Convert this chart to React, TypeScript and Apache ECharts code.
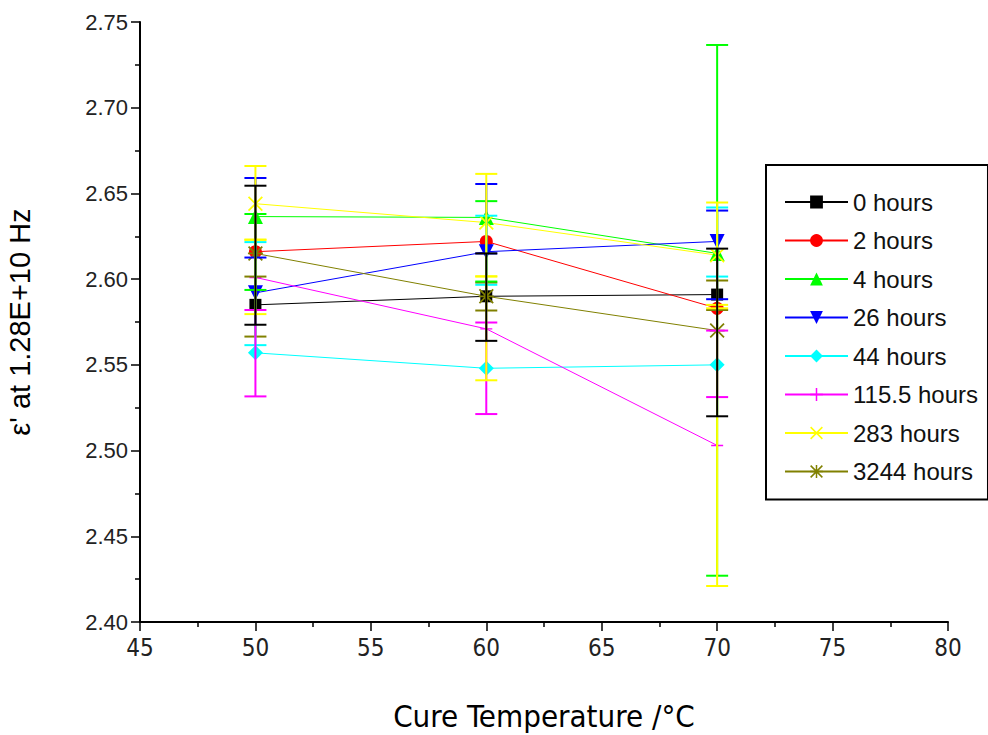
import React, { useEffect, useRef } from "react";
import * as echarts from "echarts";

const temps = [50, 60, 70];
const seriesNames = ["0 hours", "2 hours", "4 hours", "26 hours", "44 hours", "115.5 hours", "283 hours", "3244 hours"];
const h0 = [2.585, 2.590, 2.591];
const h2 = [2.616, 2.622, 2.583];
const h4 = [2.6365, 2.636, 2.615];
const h26 = [2.592, 2.616, 2.622];
const h44 = [2.557, 2.548, 2.550];
const h115 = [2.601, 2.571, 2.503];
const h283 = [2.644, 2.633, 2.614];
const h3244 = [2.615, 2.590, 2.570];

const hi0 = [2.6015, 2.598, 2.5992];
const lo0 = [2.5665, 2.5817, 2.582];
const hi2 = [2.638, 2.6455, 2.7366];
const lo2 = [2.5937, 2.5986, 2.427];
const hi4 = [2.659, 2.6555, 2.640];
const lo4 = [2.6126, 2.615, 2.5883];
const hi26 = [2.6216, 2.637, 2.6418];
const lo26 = [2.5615, 2.5967, 2.6015];
const hi44 = [2.582, 2.5747, 2.570];
const lo44 = [2.5316, 2.5213, 2.5312];
const hi115 = [2.623, 2.6016, 2.585];
const lo115 = [2.5796, 2.541, 2.421];
const hi283 = [2.666, 2.6614, 2.6447];
const lo283 = [2.623, 2.6016, 2.583];
const hi3244 = [2.6545, 2.615, 2.6178];
const lo3244 = [2.5734, 2.564, 2.520];

const xTicks = [45, 50, 55, 60, 65, 70, 75, 80];
const yTicks = [2.40, 2.45, 2.50, 2.55, 2.60, 2.65, 2.70, 2.75];

const colors = ["#000000", "#FF0000", "#00FF00", "#0000FF", "#00FFFF", "#FF00FF", "#FFFF00", "#808000"];
const errColorIdx = [7, 2, 3, 4, 5, 6, 6, 0];

const PLUS = "path://M5.3,0L6.7,0L6.7,12L5.3,12Z M0,5.3L12,5.3L12,6.7L0,6.7Z";
const CROSS = "path://M0,1L1,0L12,11L11,12Z M11,0L12,1L1,12L0,11Z";
const STAR = "path://M5.3,0L6.7,0L6.7,12L5.3,12Z M0,5.3L12,5.3L12,6.7L0,6.7Z M0,1L1,0L12,11L11,12Z M11,0L12,1L1,12L0,11Z";
const DOWN = "path://M0,0L10,0L5,9Z";
const DIAMOND = "path://M5,0L10,5L5,10L0,5Z";

const symbols = ["rect", "circle", "triangle", DOWN, DIAMOND, PLUS, CROSS, STAR];
const symbolSizes = [12, 13, 15, 15, 15, 12, 15, 15];

const values = [h0, h2, h4, h26, h44, h115, h283, h3244];
const highs = [hi0, hi2, hi4, hi26, hi44, hi115, hi283, hi3244];
const lows = [lo0, lo2, lo4, lo26, lo44, lo115, lo283, lo3244];

const FONT = "'Liberation Sans', Arial, sans-serif";
const NARROW = "'Liberation Sans Narrow', 'Arial Narrow', 'DejaVu Sans Condensed', 'Liberation Sans', sans-serif";

export default function App() {
  const ref = useRef<HTMLDivElement>(null);
  useEffect(() => {
    if (!ref.current) return;
    const chart = echarts.init(ref.current, null, { renderer: "svg" });

    const errData: number[][] = [];
    values.forEach((_, si) => {
      temps.forEach((t, i) => {
        errData.push([t, lows[si][i], highs[si][i], errColorIdx[si]]);
      });
    });

    const lineSeries = values.map((vals, si) => ({
      name: seriesNames[si],
      type: "line",
      data: temps.map((t, i) => [t, vals[i]]),
      symbol: symbols[si],
      symbolSize: symbolSizes[si],
      itemStyle: { color: colors[si] },
      lineStyle: { color: colors[si], width: 1 },
      z: 2,
    }));

    const option: any = {
      animation: false,
      backgroundColor: "#ffffff",
      grid: { left: 140, right: 40, top: 22, bottom: 113, outerBoundsMode: "none" },
      legend: {
        data: seriesNames,
        orient: "vertical",
        left: 766,
        top: 165,
        padding: [25, 10, 16, 18],
        itemWidth: 63,
        itemHeight: 16,
        itemGap: 14.5,
        borderColor: "#000",
        borderWidth: 2,
        textStyle: { fontFamily: FONT, fontSize: 24, lineHeight: 24, color: "#111" },
      },
      xAxis: {
        type: "value",
        min: 45,
        max: 80,
        interval: 5,
        name: "Cure Temperature /°C",
        nameLocation: "middle",
        nameGap: 78,
        nameTextStyle: { fontFamily: NARROW, fontSize: 31, color: "#000" },
        axisLine: { lineStyle: { color: "#000", width: 2 } },
        axisTick: { inside: false, length: 9, lineStyle: { color: "#000", width: 1.5 } },
        minorTick: { show: true, splitNumber: 2, length: 5, lineStyle: { color: "#000", width: 1.5 } },
        splitLine: { show: false },
        axisLabel: { fontFamily: NARROW, fontSize: 24, color: "#222", margin: 14, formatter: (v: number) => (xTicks.includes(v) ? String(v) : "") },
      },
      yAxis: {
        type: "value",
        min: 2.40,
        max: 2.75,
        interval: 0.05,
        name: "ε' at 1.28E+10 Hz",
        nameLocation: "middle",
        nameGap: 106,
        nameTextStyle: { fontFamily: FONT, fontSize: 29, color: "#000" },
        axisLine: { show: true, lineStyle: { color: "#000", width: 2 } },
        axisTick: { show: true, inside: false, length: 9, lineStyle: { color: "#000", width: 1.5 } },
        minorTick: { show: true, splitNumber: 2, length: 5, lineStyle: { color: "#000", width: 1.5 } },
        splitLine: { show: false },
        axisLabel: {
          fontFamily: FONT,
          fontSize: 22,
          color: "#222",
          margin: 12,
          formatter: (v: number) => {
            const s = v.toFixed(2);
            return yTicks.some((t) => t.toFixed(2) === s) ? s : "";
          },
        },
      },
      series: [
        ...lineSeries,
        {
          type: "custom",
          name: "errorbars",
          data: errData,
          encode: { x: 0, y: [1, 2] },
          z: 3,
          renderItem: (params: any, api: any) => {
            const x = api.value(0);
            const pLo = api.coord([x, api.value(1)]);
            const pHi = api.coord([x, api.value(2)]);
            const c = colors[api.value(3)];
            const hw = 11;
            const st = { stroke: c, lineWidth: 2 };
            return {
              type: "group",
              children: [
                { type: "line", shape: { x1: pLo[0], y1: pLo[1], x2: pHi[0], y2: pHi[1] }, style: st },
                { type: "line", shape: { x1: pLo[0] - hw, y1: pLo[1], x2: pLo[0] + hw, y2: pLo[1] }, style: st },
                { type: "line", shape: { x1: pHi[0] - hw, y1: pHi[1], x2: pHi[0] + hw, y2: pHi[1] }, style: st },
              ],
            };
          },
        },
      ],
    };
    chart.setOption(option);
    return () => chart.dispose();
  }, []);
  return <div ref={ref} style={{ position: "absolute", left: 0, top: 0, width: 988, height: 735, background: "#fff" }} />;
}
